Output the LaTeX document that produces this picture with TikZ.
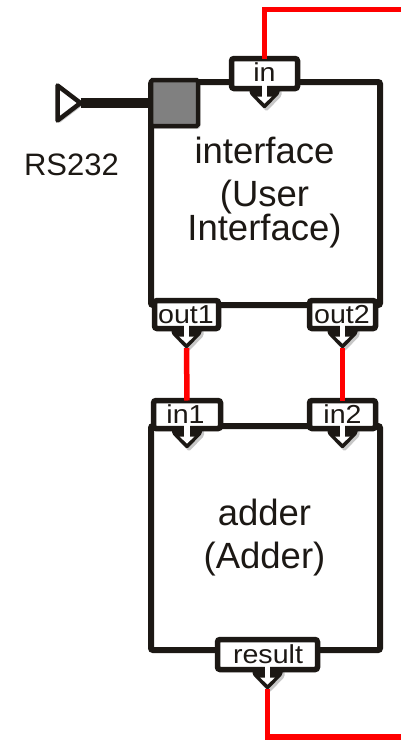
\documentclass[tikz,border=0pt]{standalone}
\usepackage{fontspec}
\setmainfont{Liberation Sans}
\newfontfamily\portfont[FakeStretch=1.1]{Liberation Sans}
\usetikzlibrary{shadows,calc}
\definecolor{ink}{RGB}{28,24,20}
\definecolor{wire}{RGB}{255,0,0}
\definecolor{sqgray}{RGB}{128,128,128}
\tikzset{
  shad/.style={drop shadow={shadow xshift=2pt,shadow yshift=-2.5pt,opacity=.22,fill=black}},
  blockbox/.style={draw=ink,line width=6pt,fill=white,rounded corners=2pt,shad,inner sep=0pt,outer sep=0pt},
  portbox/.style={draw=ink,line width=5.5pt,fill=white,rounded corners=2.5pt,shad,inner sep=0pt,outer sep=0pt},
  bigtext/.style={font=\fontsize{36.5}{40}\selectfont,text=ink,anchor=base,inner sep=0pt},
  plabel/.style={anchor=base,inner sep=0pt,text=ink,font=\portfont\fontsize{26}{28}\selectfont},
  redwire/.style={draw=wire,line width=5.5pt},
}
\newcommand\portchev[2]{% port name, tip name
  \begin{scope}[shift={(#1.south)}]
    \fill[ink,rounded corners=1.5pt,shad] (-15,-1) -- (15,-1) -- (15,5) -- (0,20.5) -- (-15,5) -- cycle;
    \fill[white] (-2.8,-4) rectangle (2.8,9);
    \fill[white] (-7.5,8) -- (7.5,8) -- (0,15) -- cycle;
    \coordinate (#2) at (0,19.5);
  \end{scope}}
\begin{document}
\begin{tikzpicture}[x=1pt,y=-1pt]
\useasboundingbox (0,0) rectangle (401,740);
% main blocks
\node[blockbox,minimum width=229pt,minimum height=223pt] (iface) at (265.5,193.5) {};
\node[blockbox,minimum width=229pt,minimum height=224pt] (adder) at (265.5,538) {};
% texts
\node[bigtext] (t1) at (264.5,163) {interface};
\node[bigtext] (t2) at (264.5,206.5) {(User};
\node[bigtext] (t3) at (264.5,240) {Interface)};
\node[bigtext] (t4) at (264.5,525) {adder};
\node[bigtext] (t5) at (264.5,568) {(Adder)};
% ports
\node[portbox,minimum width=66pt,minimum height=30pt] (pin) at (264.5,73.5) {};
\node[portbox,minimum width=64pt,minimum height=28pt] (pout1) at (186.5,314.5) {};
\node[portbox,minimum width=66pt,minimum height=28pt] (pout2) at (342.5,314.5) {};
\node[portbox,minimum width=67pt,minimum height=28pt] (pin1) at (187,414.5) {};
\node[portbox,minimum width=66pt,minimum height=28pt] (pin2) at (342.5,414.5) {};
\node[portbox,minimum width=100pt,minimum height=30pt] (pres) at (267.5,654.5) {};
\portchev{pin}{pintip}
\portchev{pout1}{pout1tip}
\portchev{pout2}{pout2tip}
\portchev{pin1}{pin1tip}
\portchev{pin2}{pin2tip}
\portchev{pres}{prestip}
% port labels
\node[plabel] (lin) at (264.5,81) {in};
\node[plabel] (lout1) at (186,323.5) {out1};
\node[plabel] (lout2) at (342,323.5) {out2};
\node[plabel] (lin1) at (185.5,423.5) {in1};
\node[plabel] (lin2) at (342.5,423.5) {in2};
\node[plabel] (lres) at (268,663.5) {result};
% external port
\node[draw=ink,line width=4.5pt,fill=sqgray,inner sep=0pt,outer sep=0pt,minimum width=47pt,minimum height=46pt,rounded corners=1.5pt,shad] (sq) at (174.5,103) {};
\draw[ink,line width=4.5pt,fill=white,line join=round,shad] (57.5,85.5) -- (80.5,103) -- (57.5,120.5) -- cycle;
\coordinate (rstip) at (80.5,103);
\draw[ink,line width=10pt] (rstip) -- (sq.west);
\node[font=\fontsize{31}{34}\selectfont,text=ink,anchor=base,inner sep=0pt] (rs) at (71.5,175.5) {RS232};
% wires
\coordinate (topright) at (410,9.5);
\coordinate (botright) at (410,737);
\draw[redwire] (pin.north) |- (topright);
\draw[redwire] (pout1tip) -- (pin1.north);
\draw[redwire] (pout2tip) -- (pin2.north);
\draw[redwire] (prestip) |- (botright);
\end{tikzpicture}
\end{document}
